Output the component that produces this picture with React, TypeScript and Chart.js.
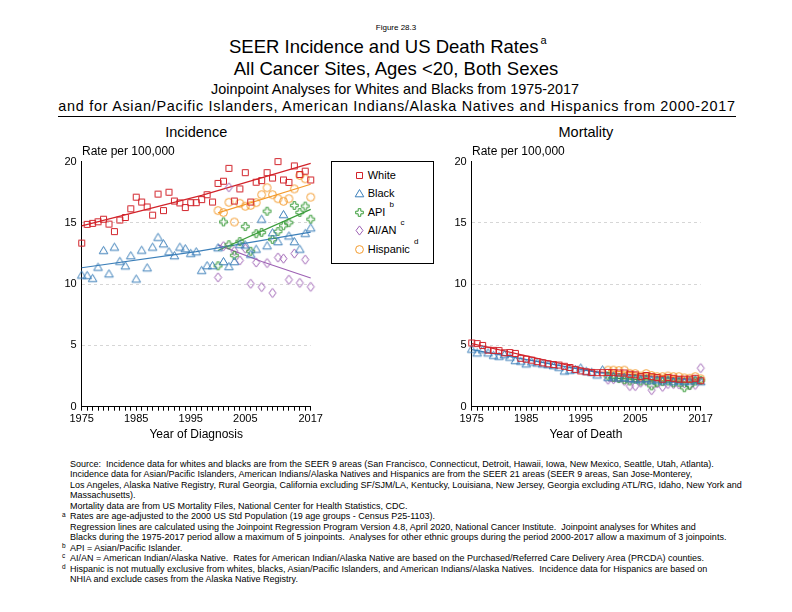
import React, { useEffect, useRef } from 'react';
import { Chart, registerables } from 'chart.js';

Chart.register(...registerables);

const FONT = '"Liberation Sans", Arial, Helvetica, sans-serif';

// ---------- categories / ticks ----------
const YEARS_ALL = [
  1975, 1976, 1977, 1978, 1979, 1980, 1981, 1982, 1983, 1984,
  1985, 1986, 1987, 1988, 1989, 1990, 1991, 1992, 1993, 1994,
  1995, 1996, 1997, 1998, 1999, 2000, 2001, 2002, 2003, 2004,
  2005, 2006, 2007, 2008, 2009, 2010, 2011, 2012, 2013, 2014,
  2015, 2016, 2017,
];
const YEARS_RECENT = [
  2000, 2001, 2002, 2003, 2004, 2005, 2006, 2007, 2008, 2009,
  2010, 2011, 2012, 2013, 2014, 2015, 2016, 2017,
];
const X_TICK_LABELS = [1975, 1985, 1995, 2005, 2017];
const Y_MIN = 0;
const Y_MAX = 20;
const Y_STEP = 5;

// ---------- incidence (observed) ----------
const INC_WHITE = [
  13.35, 14.88, 14.96, 15.09, 15.3, 14.9, 14.29, 15.23, 15.44, 16.15,
  17.1, 16.7, 16.3, 15.63, 17.35, 16.0, 17.5, 16.78, 16.63, 16.25,
  16.65, 16.65, 16.9, 17.3, 16.7, 18.22, 18.4, 19.45, 16.78, 17.77,
  19.1, 16.7, 18.32, 18.45, 19.1, 18.66, 20.0, 18.5, 18.3, 19.65,
  18.95, 19.22, 18.5,
];
const INC_BLACK = [
  10.75, 10.72, 10.48, 11.39, 12.76, 10.85, 13.03, 11.87, 11.5, 12.33,
  10.43, 12.78, 11.34, 13.03, 13.83, 13.3, 12.65, 12.33, 13.03, 12.9,
  12.52, 12.65, 11.13, 11.52, 11.52, 12.98, 11.85, 11.45, 11.85, 13.25,
  13.2, 12.45, 12.86, 15.31, 13.14, 14.2, 13.48, 15.69, 13.94, 13.48,
  12.86, 14.15, 14.6,
];
const INC_API = [11.5, 15.08, 13.22, 12.35, 13.48, 14.7, 12.68, 14.12, 14.22, 15.95, 13.65, 14.3, 14.77, 15.02, 16.42, 15.85, 16.37, 15.3];
const INC_AIAN = [10.55, 13.1, 17.9, 12.7, 11.93, 12.9, 10.03, 11.77, 9.76, 11.72, 9.28, 12.17, 12.08, 10.36, 12.5, 10.1, 12.0, 9.78];
const INC_HISP = [16.0, 15.84, 16.68, 15.07, 16.6, 16.36, 16.43, 16.65, 17.3, 17.87, 17.3, 16.97, 16.76, 16.97, 17.77, 18.87, 18.6, 17.1];

// ---------- incidence (joinpoint fits: years / values at joinpoints) ----------
const INC_WHITE_FIT_X = [1975, 1997, 2017];
const INC_WHITE_FIT = [14.75, 17.25, 19.85];
const INC_BLACK_FIT_X = [1975, 1996, 2017];
const INC_BLACK_FIT = [11.34, 12.65, 14.25];
const INC_API_FIT_X = [2000, 2017];
const INC_API_FIT = [12.75, 16.1];
const INC_AIAN_FIT_X = [2000, 2008, 2017];
const INC_AIAN_FIT = [13.2, 11.85, 10.5];
const INC_HISP_FIT_X = [2000, 2017];
const INC_HISP_FIT = [15.82, 18.15];

// ---------- mortality (observed) ----------
const MORT_WHITE = [
  5.2, 5.15, 5.0, 4.62, 4.6, 4.58, 4.4, 4.42, 4.35, 3.95,
  3.88, 3.8, 3.68, 3.58, 3.5, 3.44, 3.4, 3.3, 3.2, 3.05,
  2.92, 2.85, 2.8, 2.78, 2.78, 2.8, 2.78, 2.75, 2.75, 2.65,
  2.6, 2.45, 2.55, 2.45, 2.38, 2.25, 2.38, 2.32, 2.25, 2.25,
  2.25, 2.32, 2.12,
];
const MORT_BLACK = [
  4.7, 4.4, 4.65, 4.4, 4.2, 4.12, 4.25, 4.05, 3.78, 3.72,
  3.5, 3.66, 3.58, 3.5, 3.44, 3.36, 3.22, 2.92, 2.98, 3.04,
  3.17, 2.9, 2.82, 2.6, 3.02, 2.4, 2.5, 2.35, 2.4, 2.3,
  2.25, 2.2, 2.3, 2.15, 2.2, 2.1, 2.2, 2.05, 2.15, 2.05,
  2.1, 2.2, 2.05,
];
const MORT_API = [2.5, 2.4, 2.3, 2.2, 2.1, 2.25, 2.1, 2.15, 1.7, 2.0, 2.05, 2.1, 1.95, 2.0, 1.55, 1.75, 2.1, 2.15];
const MORT_AIAN = [2.2, 2.25, 2.35, 2.1, 1.68, 1.68, 1.95, 2.05, 1.35, 1.9, 1.62, 1.85, 1.85, 1.82, 1.9, 1.75, 1.78, 3.15];
const MORT_HISP = [2.98, 2.98, 2.95, 2.98, 2.72, 2.7, 2.5, 2.7, 2.55, 2.45, 2.45, 2.5, 2.45, 2.45, 2.35, 2.32, 2.45, 2.28];

// ---------- mortality (joinpoint fits) ----------
const MORT_WHITE_FIT_X = [1975, 1998, 2017];
const MORT_WHITE_FIT = [5.15, 2.85, 2.2];
const MORT_BLACK_FIT_X = [1975, 1998, 2017];
const MORT_BLACK_FIT = [4.65, 2.8, 2.1];
const MORT_API_FIT_X = [2000, 2017];
const MORT_API_FIT = [2.35, 1.95];
const MORT_AIAN_FIT_X = [2000, 2017];
const MORT_AIAN_FIT = [2.1, 1.95];
const MORT_HISP_FIT_X = [2000, 2017];
const MORT_HISP_FIT = [2.95, 2.3];

// ---------- styles ----------
const C_WHITE = '#d2232a';
const C_BLACK = '#3c7fb9';
const C_API = '#3a9c3a';
const C_AIAN = '#9e62b4';
const C_HISP = '#f39a2b';

const markerCache: Record<string, HTMLCanvasElement> = {};
function marker(shape: string, color: string): HTMLCanvasElement {
  const key = shape + color;
  if (markerCache[key]) return markerCache[key];
  const c = document.createElement('canvas');
  c.width = 13;
  c.height = 13;
  const g = c.getContext('2d')!;
  g.strokeStyle = color;
  g.lineWidth = 1;
  const cx = 6.5;
  const cy = 6.5;
  g.beginPath();
  if (shape === 'square') {
    g.rect(cx - 3, cy - 3, 6, 6);
  } else if (shape === 'triangle') {
    g.moveTo(cx, cy - 4);
    g.lineTo(cx + 4.3, cy + 3.3);
    g.lineTo(cx - 4.3, cy + 3.3);
    g.closePath();
  } else if (shape === 'plus') {
    const a = 1.3;
    const e = 3.8;
    const p = [
      [-a, -e], [a, -e], [a, -a], [e, -a], [e, a], [a, a],
      [a, e], [-a, e], [-a, a], [-e, a], [-e, -a], [-a, -a],
    ];
    p.forEach(([x, y], i) => (i === 0 ? g.moveTo(cx + x, cy + y) : g.lineTo(cx + x, cy + y)));
    g.closePath();
  } else if (shape === 'diamond') {
    g.moveTo(cx, cy - 4.6);
    g.lineTo(cx + 3.5, cy);
    g.lineTo(cx, cy + 4.6);
    g.lineTo(cx - 3.5, cy);
    g.closePath();
  } else {
    g.arc(cx, cy, 3.9, 0, Math.PI * 2);
  }
  g.stroke();
  markerCache[key] = c;
  return c;
}

function pts(xs: number[], ys: number[]) {
  return xs.map((x, i) => ({ x, y: ys[i] }));
}

function scatterSet(label: string, xs: number[], ys: number[], shape: string, color: string) {
  return {
    label,
    data: pts(xs, ys),
    pointStyle: marker(shape, color),
    pointRadius: 4,
    showLine: false,
    clip: false as const,
  };
}

function lineSet(label: string, xs: number[], ys: number[], color: string) {
  return {
    label,
    data: pts(xs, ys),
    showLine: true,
    pointRadius: 0,
    borderColor: color,
    borderWidth: 1.2,
    fill: false,
    tension: 0,
    clip: false as const,
  };
}

function buildOptions() {
  return {
    animation: false,
    responsive: false,
    maintainAspectRatio: false,
    events: [],
    layout: { padding: { left: 0, right: 19.3, top: 9, bottom: 0 } },
    plugins: { legend: { display: false }, tooltip: { enabled: false }, title: { display: false } },
    scales: {
      x: {
        type: 'linear',
        position: 'bottom',
        min: YEARS_ALL[0],
        max: YEARS_ALL[YEARS_ALL.length - 1],
        afterFit: (s: any) => {
          s.height = 25.3;
        },
        ticks: {
          stepSize: 1,
          autoSkip: false,
          maxRotation: 0,
          minRotation: 0,
          padding: 2,
          color: '#000',
          font: { family: FONT, size: 11 },
          callback: (v: any) => (X_TICK_LABELS.includes(Number(v)) ? String(v) : ''),
        },
        grid: { display: true, drawOnChartArea: false, drawTicks: true, tickLength: 4, tickColor: '#000', tickWidth: 1 },
        border: { display: true, color: '#000', width: 1 },
      },
      y: {
        type: 'linear',
        position: 'left',
        min: Y_MIN,
        max: Y_MAX,
        afterFit: (s: any) => {
          s.width = 41.7;
        },
        ticks: { stepSize: Y_STEP, padding: 5, color: '#000', font: { family: FONT, size: 11 } },
        grid: {
          drawTicks: false,
          lineWidth: 1,
          color: (c: any) =>
            c.tick && (c.tick.value === Y_MIN || c.tick.value === Y_MAX) ? 'rgba(0,0,0,0)' : '#d6d6d6',
        },
        border: { display: true, color: '#000', width: 1, dash: [3, 3] },
      },
    },
  };
}

function PanelChart({ left, top, datasets }: { left: number; top: number; datasets: any[] }) {
  const ref = useRef<HTMLCanvasElement>(null);
  useEffect(() => {
    const chart = new Chart(ref.current as HTMLCanvasElement, {
      type: 'scatter',
      data: { datasets },
      options: buildOptions() as any,
    });
    return () => chart.destroy();
  }, []);
  return (
    <canvas
      ref={ref}
      width={290}
      height={282}
      style={{ position: 'absolute', left, top, width: 290, height: 282 }}
    />
  );
}

function T({
  x,
  y,
  size,
  children,
  anchor = 'left',
  style,
}: {
  x: number;
  y: number;
  size: number;
  children: any;
  anchor?: 'left' | 'center' | 'right';
  style?: any;
}) {
  return (
    <div
      style={{
        position: 'absolute',
        left: x,
        top: y - size / 2,
        fontSize: size,
        lineHeight: `${size}px`,
        fontFamily: FONT,
        whiteSpace: 'pre',
        color: '#000',
        transform: anchor === 'center' ? 'translateX(-50%)' : anchor === 'right' ? 'translateX(-100%)' : undefined,
        ...style,
      }}
    >
      {children}
    </div>
  );
}

const LEGEND_ITEMS: { label: string; sup: string; shape: string; color: string }[] = [
  { label: 'White', sup: '', shape: 'square', color: C_WHITE },
  { label: 'Black', sup: '', shape: 'triangle', color: C_BLACK },
  { label: 'API', sup: 'b', shape: 'plus', color: C_API },
  { label: 'AI/AN', sup: 'c', shape: 'diamond', color: C_AIAN },
  { label: 'Hispanic', sup: 'd', shape: 'circle', color: C_HISP },
];

const FOOTNOTES: [string, string][] = [
  ['', 'Source:  Incidence data for whites and blacks are from the SEER 9 areas (San Francisco, Connecticut, Detroit, Hawaii, Iowa, New Mexico, Seattle, Utah, Atlanta).'],
  ['', 'Incidence data for Asian/Pacific Islanders, American Indians/Alaska Natives and Hispanics are from the SEER 21 areas (SEER 9 areas, San Jose-Monterey,'],
  ['', 'Los Angeles, Alaska Native Registry, Rural Georgia, California excluding SF/SJM/LA, Kentucky, Louisiana, New Jersey, Georgia excluding ATL/RG, Idaho, New York and'],
  ['', 'Massachusetts).'],
  ['', 'Mortality data are from US Mortality Files, National Center for Health Statistics, CDC.'],
  ['a', 'Rates are age-adjusted to the 2000 US Std Population (19 age groups - Census P25-1103).'],
  ['', 'Regression lines are calculated using the Joinpoint Regression Program Version 4.8, April 2020, National Cancer Institute.  Joinpoint analyses for Whites and'],
  ['', 'Blacks during the 1975-2017 period allow a maximum of 5 joinpoints.  Analyses for other ethnic groups during the period 2000-2017 allow a maximum of 3 joinpoints.'],
  ['b', 'API = Asian/Pacific Islander.'],
  ['c', 'AI/AN = American Indian/Alaska Native.  Rates for American Indian/Alaska Native are based on the Purchased/Referred Care Delivery Area (PRCDA) counties.'],
  ['d', 'Hispanic is not mutually exclusive from whites, blacks, Asian/Pacific Islanders, and American Indians/Alaska Natives.  Incidence data for Hispanics are based on'],
  ['', 'NHIA and exclude cases from the Alaska Native Registry.'],
];

export default function App() {
  const incidenceSets = [
    scatterSet('White', YEARS_ALL, INC_WHITE, 'square', C_WHITE),
    scatterSet('Black', YEARS_ALL, INC_BLACK, 'triangle', C_BLACK),
    scatterSet('API', YEARS_RECENT, INC_API, 'plus', C_API),
    scatterSet('AI/AN', YEARS_RECENT, INC_AIAN, 'diamond', C_AIAN),
    scatterSet('Hispanic', YEARS_RECENT, INC_HISP, 'circle', C_HISP),
    lineSet('White fit', INC_WHITE_FIT_X, INC_WHITE_FIT, C_WHITE),
    lineSet('Black fit', INC_BLACK_FIT_X, INC_BLACK_FIT, C_BLACK),
    lineSet('API fit', INC_API_FIT_X, INC_API_FIT, C_API),
    lineSet('AI/AN fit', INC_AIAN_FIT_X, INC_AIAN_FIT, C_AIAN),
    lineSet('Hispanic fit', INC_HISP_FIT_X, INC_HISP_FIT, C_HISP),
  ];
  const mortalitySets = [
    scatterSet('White', YEARS_ALL, MORT_WHITE, 'square', C_WHITE),
    scatterSet('Black', YEARS_ALL, MORT_BLACK, 'triangle', C_BLACK),
    scatterSet('Hispanic', YEARS_RECENT, MORT_HISP, 'circle', C_HISP),
    scatterSet('API', YEARS_RECENT, MORT_API, 'plus', C_API),
    scatterSet('AI/AN', YEARS_RECENT, MORT_AIAN, 'diamond', C_AIAN),
    lineSet('White fit', MORT_WHITE_FIT_X, MORT_WHITE_FIT, C_WHITE),
    lineSet('Black fit', MORT_BLACK_FIT_X, MORT_BLACK_FIT, C_BLACK),
    lineSet('API fit', MORT_API_FIT_X, MORT_API_FIT, C_API),
    lineSet('AI/AN fit', MORT_AIAN_FIT_X, MORT_AIAN_FIT, C_AIAN),
    lineSet('Hispanic fit', MORT_HISP_FIT_X, MORT_HISP_FIT, C_HISP),
  ];

  return (
    <div style={{ position: 'absolute', left: 0, top: 0, width: 792, height: 612, background: '#fff', overflow: 'hidden' }}>
      {/* titles */}
      <T x={396} y={28} size={8} anchor="center">Figure 28.3</T>
      <T x={229} y={47.5} size={18.5}>
        SEER Incidence and US Death Rates
        <span style={{ fontSize: 11, position: 'relative', top: -9, marginLeft: 2 }}>a</span>
      </T>
      <T x={396} y={69} size={18.5} anchor="center">All Cancer Sites, Ages &lt;20, Both Sexes</T>
      <T x={395} y={89} size={14.4} anchor="center">Joinpoint Analyses for Whites and Blacks from 1975-2017</T>
      <T x={397} y={106} size={14.4} anchor="center" style={{ letterSpacing: '0.72px' }}>
        and for Asian/Pacific Islanders, American Indians/Alaska Natives and Hispanics from 2000-2017
      </T>
      <div style={{ position: 'absolute', left: 58, top: 116, width: 678, height: 1, background: '#000' }} />

      {/* panel titles */}
      <T x={196.2} y={132.5} size={14.5} anchor="center">Incidence</T>
      <T x={585.9} y={132.5} size={14.5} anchor="center">Mortality</T>

      {/* charts */}
      <PanelChart left={40} top={150} datasets={incidenceSets} />
      <PanelChart left={430} top={150} datasets={mortalitySets} />

      <T x={82} y={150.5} size={12}>Rate per 100,000</T>
      <T x={472} y={150.5} size={12}>Rate per 100,000</T>
      <T x={196.2} y={434} size={12} anchor="center">Year of Diagnosis</T>
      <T x={585.9} y={434} size={12} anchor="center">Year of Death</T>

      {/* legend */}
      <div
        style={{
          position: 'absolute',
          left: 331,
          top: 160.5,
          width: 102.5,
          height: 103,
          border: '1px solid #000',
          boxSizing: 'border-box',
          background: '#fff',
        }}
      />
      {LEGEND_ITEMS.map((it, i) => {
        const cy = 175 + i * 18.5;
        return (
          <React.Fragment key={it.label}>
            <img
              src={marker(it.shape, it.color).toDataURL()}
              style={{ position: 'absolute', left: 359.3 - 6.5, top: cy - 6.5, width: 13, height: 13 }}
            />
            <T x={367.7} y={cy} size={11}>
              {it.label}
              {it.sup ? (
                <span style={{ fontSize: 8, position: 'relative', top: -9, marginLeft: 4 }}>{it.sup}</span>
              ) : null}
            </T>
          </React.Fragment>
        );
      })}

      {/* footnotes */}
      {FOOTNOTES.map(([mark, text], i) => {
        const y = 464.5 + i * 10.45;
        return (
          <React.Fragment key={i}>
            {mark ? (
              <T x={62} y={y - 2} size={6.5}>
                {mark}
              </T>
            ) : null}
            <T x={70} y={y} size={9}>
              {text}
            </T>
          </React.Fragment>
        );
      })}
    </div>
  );
}
